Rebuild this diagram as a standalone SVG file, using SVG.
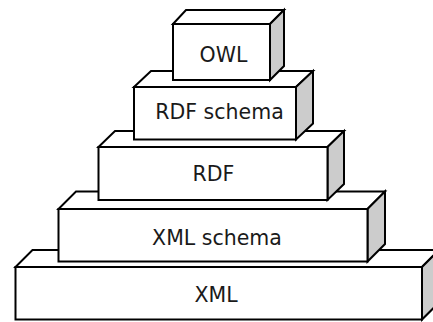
<svg xmlns="http://www.w3.org/2000/svg" width="433" height="322" viewBox="0 0 433 322">
  <style>
    .front { fill: #ffffff; stroke: #000000; stroke-width: 2; stroke-linejoin: miter; }
    .top { fill: #ffffff; stroke: #000000; stroke-width: 2; stroke-linejoin: miter; }
    .side { fill: #cccccc; stroke: #000000; stroke-width: 2; stroke-linejoin: miter; }
    .label { font-family: "DejaVu Sans", Verdana, sans-serif; font-size: 20.5px; fill: #1a1a1a; text-anchor: middle; }
  </style>
  <rect width="433" height="322" fill="#ffffff"/>

  <!-- layers stacked bottom to top; each block = front face, top face, right face -->
  <g id="xml">
    <polygon class="top" points="15.5,267 32.5,250 439,250 422,267"/>
    <polygon class="side" points="422,267 439,250 439,302.5 422,319.5"/>
    <rect class="front" x="15.5" y="267" width="406.5" height="52.5"/>
    <text class="label" x="216" y="301.5">XML</text>
  </g>

  <g id="xml-schema">
    <polygon class="top" points="58.5,209 76,191.5 385,191.5 367.5,209"/>
    <polygon class="side" points="367.5,209 385,191.5 385,244 367.5,261.5"/>
    <rect class="front" x="58.5" y="209" width="309" height="52.5"/>
    <text class="label" x="217" y="245">XML schema</text>
  </g>

  <g id="rdf">
    <polygon class="top" points="98.5,147 115,131 344,131 327.5,147"/>
    <polygon class="side" points="327.5,147 344,131 344,184 327.5,200"/>
    <rect class="front" x="98.5" y="147" width="229" height="53"/>
    <text class="label" x="213.5" y="180.5">RDF</text>
  </g>

  <g id="rdf-schema">
    <polygon class="top" points="134,87 151,71 313,71 296,87"/>
    <polygon class="side" points="296,87 313,71 313,123.5 296,139.5"/>
    <rect class="front" x="134" y="87" width="162" height="52.5"/>
    <text class="label" x="219.5" y="119">RDF schema</text>
  </g>

  <g id="owl">
    <polygon class="top" points="173,24 186,10 284,10 270,24"/>
    <polygon class="side" points="270,24 284,10 284,66 270,80"/>
    <rect class="front" x="173" y="24" width="97" height="56"/>
    <text class="label" x="223.5" y="61.5">OWL</text>
  </g>

  <g id="connectors"/>
</svg>
